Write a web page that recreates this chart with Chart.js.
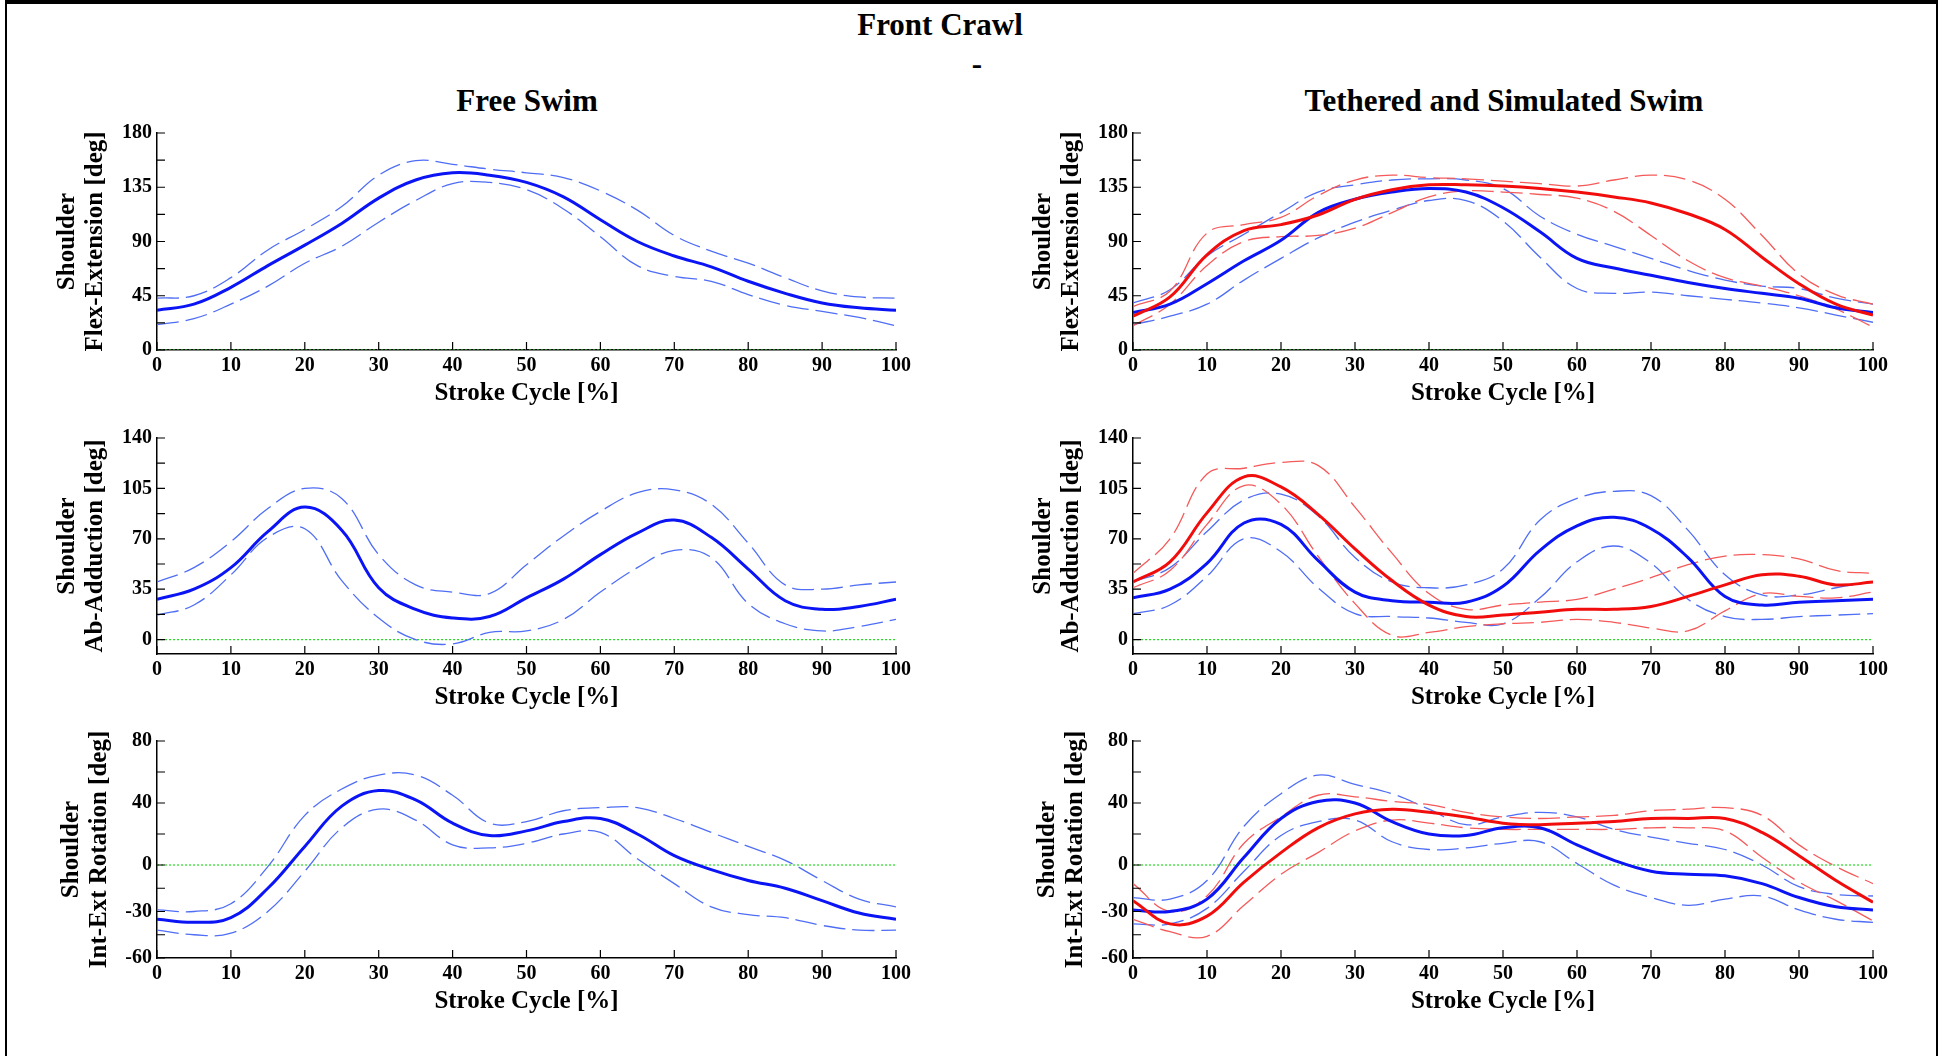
<!DOCTYPE html>
<html>
<head>
<meta charset="utf-8">
<title>Front Crawl</title>
<script src="https://cdn.jsdelivr.net/npm/chart.js@4.4.1/dist/chart.umd.min.js"></script>
<style>
  body { margin: 0; width: 1940px; height: 1056px; background: #fff; position: relative; overflow: hidden;
         font-family: "Liberation Serif", "Times New Roman", serif; font-weight: bold; color: #000; }
  .frame { position: absolute; left: 5px; top: 0; width: 1933px; height: 1056px; box-sizing: border-box;
           border-top: 4px solid #000; border-left: 2px solid #000; border-right: 2px solid #000; }
  .t { position: absolute; transform: translate(-50%, -50%); white-space: nowrap; font-size: 31px; }
  canvas { position: absolute; }
</style>
</head>
<body>
<div class="frame"></div>
<div class="t" style="left:940px;top:25px">Front Crawl</div>
<div class="t" style="left:977px;top:64px">-</div>
<div class="t" style="left:527px;top:101px">Free Swim</div>
<div class="t" style="left:1504px;top:101px">Tethered and Simulated Swim</div>

<canvas id="freeFlex" width="876" height="294" style="left:40px;top:116px"></canvas>
<canvas id="tethFlex" width="877" height="294" style="left:1016px;top:116px"></canvas>
<canvas id="freeAbd" width="876" height="293" style="left:40px;top:421px"></canvas>
<canvas id="tethAbd" width="877" height="293" style="left:1016px;top:421px"></canvas>
<canvas id="freeRot" width="876" height="294" style="left:40px;top:724px"></canvas>
<canvas id="tethRot" width="877" height="294" style="left:1016px;top:724px"></canvas>

<script>
// stroke cycle samples [%]
const STROKE = [0, 5, 10, 15, 20, 25, 30, 35, 40, 45, 50, 55, 60, 65, 70, 75, 80, 85, 90, 95, 100];
const ZERO_X = [0, 100];
const ZERO_Y = [0, 0];

// Free swim - flex/extension
const freeFlexMean  = [33, 38, 52, 70, 87, 105, 126, 141, 147, 145, 139, 127, 108, 90, 78, 69, 57, 47, 39, 35, 33];
const freeFlexUpper = [43, 45, 60, 83, 100, 119, 145, 157, 154, 150, 147, 143, 132, 116, 95, 82, 72, 60, 49, 44, 43];
const freeFlexLower = [21, 26, 38, 53, 72, 86, 106, 124, 138, 139, 133, 117, 94, 70, 61, 57, 46, 37, 32, 27, 20];

// Free swim - ab/adduction
const freeAbdMean  = [28, 35, 50, 75, 92, 76, 36, 21, 15, 16, 29, 42, 59, 74, 83, 71, 49, 27, 21, 23, 28];
const freeAbdUpper = [40, 50, 68, 91, 105, 98, 59, 38, 33, 32, 52, 72, 89, 102, 104, 94, 67, 38, 35, 38, 40];
const freeAbdLower = [17, 24, 45, 71, 77, 41, 15, 0, -3, 5, 6, 14, 33, 50, 62, 57, 25, 11, 6, 9, 14];

// Free swim - int/ext rotation
const freeRotMean  = [-35, -37, -34, -15, 12, 38, 48, 42, 27, 19, 22, 28, 30, 20, 6, -3, -10, -15, -23, -31, -35];
const freeRotUpper = [-29, -30, -25, -1, 32, 49, 58, 58, 45, 27, 28, 35, 37, 37, 30, 21, 12, 3, -10, -22, -27];
const freeRotLower = [-42, -45, -44, -30, -4, 24, 36, 29, 13, 11, 14, 20, 21, 4, -12, -27, -32, -34, -39, -42, -42];

// Tethered / simulated - flex/extension
const tethFlexBlueMean  = [31, 38, 55, 74, 91, 114, 125, 131, 134, 131, 118, 98, 76, 68, 62, 56, 51, 47, 43, 35, 31];
const tethFlexBlueUpper = [39, 50, 78, 96, 114, 131, 137, 141, 142, 141, 134, 111, 96, 86, 76, 66, 58, 53, 51, 43, 38];
const tethFlexBlueLower = [21, 28, 38, 58, 76, 93, 106, 116, 124, 124, 107, 77, 51, 47, 48, 45, 42, 39, 35, 29, 23];
const tethFlexRedMean   = [28, 44, 79, 99, 104, 112, 125, 133, 137, 137, 136, 134, 131, 127, 122, 113, 100, 77, 55, 38, 29];
const tethFlexRedUpper  = [36, 49, 97, 104, 110, 128, 141, 145, 143, 142, 140, 138, 136, 141, 145, 141, 125, 95, 63, 46, 38];
const tethFlexRedLower  = [20, 38, 70, 90, 94, 95, 101, 114, 127, 132, 131, 129, 126, 115, 95, 74, 60, 53, 45, 34, 19];

// Tethered / simulated - ab/adduction
const tethAbdBlueMean  = [29, 35, 53, 81, 80, 55, 33, 27, 26, 26, 37, 62, 79, 85, 77, 57, 30, 24, 26, 27, 28];
const tethAbdBlueUpper = [40, 50, 75, 97, 101, 86, 57, 40, 36, 38, 49, 83, 98, 103, 100, 76, 45, 31, 31, 36, 40];
const tethAbdBlueLower = [18, 24, 44, 70, 61, 36, 18, 16, 15, 12, 11, 29, 54, 65, 53, 28, 16, 14, 16, 17, 18];
const tethAbdRedMean   = [40, 54, 88, 113, 106, 87, 63, 41, 24, 16, 17, 19, 21, 21, 23, 30, 38, 45, 44, 38, 40];
const tethAbdRedUpper  = [46, 70, 115, 119, 123, 121, 92, 60, 32, 21, 24, 26, 28, 35, 43, 52, 58, 59, 56, 48, 46];
const tethAbdRedLower  = [36, 48, 80, 107, 94, 58, 25, 3, 5, 9, 11, 12, 14, 12, 8, 6, 20, 32, 30, 29, 33];

// Tethered / simulated - int/ext rotation
const tethRotBlueMean  = [-29, -30, -22, 5, 30, 41, 40, 28, 20, 19, 24, 24, 13, 3, -4, -6, -7, -12, -21, -27, -29];
const tethRotBlueUpper = [-21, -22, -10, 25, 46, 58, 52, 46, 36, 26, 31, 34, 31, 23, 18, 14, 10, 0, -14, -19, -20];
const tethRotBlueLower = [-38, -38, -28, -4, 19, 28, 29, 15, 10, 11, 14, 15, 1, -13, -21, -26, -22, -20, -29, -35, -37];
const tethRotRedMean   = [-23, -38, -33, -11, 8, 24, 33, 36, 34, 31, 27, 26, 27, 28, 30, 30, 30, 21, 6, -10, -24];
const tethRotRedUpper  = [-12, -30, -20, 14, 31, 45, 44, 41, 39, 34, 31, 30, 31, 32, 35, 36, 37, 32, 13, -1, -12];
const tethRotRedLower  = [-35, -43, -46, -26, -6, 8, 22, 29, 27, 24, 23, 23, 23, 23, 24, 24, 22, 5, -11, -23, -36];

// y axis ticks: labelled and unlabelled ones
const flexTicks = [0, 45, 90, 135, 180];
const flexMinor = [22.5, 67.5, 112.5, 157.5];
const abdTicks = [0, 35, 70, 105, 140];
const abdMinor = [17.5, 52.5, 87.5, 122.5];
const rotTicks = [-60, -30, 0, 40, 80];
const rotMinor = [-45, -15, 20, 60];

const BLUE = "#0a14f5";
const BLUE_SD = "#4f6ef5";
const RED = "#f20d0d";
const RED_SD = "#f55a5a";
const GREEN = "#22dd22";

Chart.defaults.font.family = '"Liberation Serif", "Times New Roman", serif';
Chart.defaults.font.weight = "bold";
Chart.defaults.color = "#000";

function pts(ys) {
  return STROKE.map((x, i) => ({ x: x, y: ys[i] }));
}

function meanSet(ys, color) {
  return { data: pts(ys), borderColor: color, borderWidth: 3, pointRadius: 0, tension: 0.4 };
}

function sdSet(ys, color) {
  return { data: pts(ys), borderColor: color, borderWidth: 1.3, borderDash: [22, 7], pointRadius: 0, tension: 0.4 };
}

function zeroSet() {
  return {
    data: ZERO_X.map((x, i) => ({ x: x, y: ZERO_Y[i] })),
    borderColor: GREEN, borderWidth: 1.2, borderDash: [2, 2], pointRadius: 0,
  };
}

// matlab style ticks pointing into the plot
const inwardTicks = {
  id: "inwardTicks",
  afterDatasetsDraw(chart) {
    const { ctx, chartArea: a, scales: { x, y } } = chart;
    ctx.save();
    ctx.strokeStyle = "#000";
    ctx.lineWidth = 1.2;
    ctx.beginPath();
    x.ticks.forEach((t) => {
      const px = x.getPixelForValue(t.value);
      ctx.moveTo(px, a.bottom);
      ctx.lineTo(px, a.bottom - 8);
    });
    y.ticks.forEach((t) => {
      const py = y.getPixelForValue(t.value);
      ctx.moveTo(a.left, py);
      ctx.lineTo(a.left + 8, py);
    });
    ctx.stroke();
    ctx.restore();
  },
};

function makeChart(id, datasets, yMin, yMax, labelled, minor, yTitle, titlePad) {
  const ctx = document.getElementById(id).getContext("2d");
  return new Chart(ctx, {
    type: "line",
    data: { datasets: datasets.concat([zeroSet()]) },
    options: {
      responsive: false,
      animation: false,
      devicePixelRatio: 1,
      layout: { padding: { top: 15, right: 20, bottom: 0, left: 0 } },
      plugins: { legend: { display: false }, tooltip: { enabled: false } },
      scales: {
        x: {
          type: "linear",
          min: 0,
          max: 100,
          grid: { display: false, drawTicks: false },
          border: { display: true, color: "#000", width: 1.5 },
          ticks: { stepSize: 10, autoSkip: false, maxRotation: 0, padding: 4, font: { size: 20 } },
          title: { display: true, text: "Stroke Cycle [%]", font: { size: 25, lineHeight: 1.2 }, padding: { top: 0, bottom: 1 } },
          afterFit: (s) => { s.height = 60; },
        },
        y: {
          min: yMin,
          max: yMax,
          grid: { display: false, drawTicks: false },
          border: { display: true, color: "#000", width: 1.5 },
          afterBuildTicks: (s) => {
            s.ticks = labelled.concat(minor).sort((a, b) => a - b).map((v) => ({ value: v }));
          },
          ticks: {
            autoSkip: false,
            padding: 5,
            font: { size: 20 },
            callback: (v) => (labelled.includes(v) ? String(v) : ""),
          },
          title: { display: true, text: yTitle, font: { size: 25, lineHeight: 1.12 }, padding: { top: titlePad, bottom: 0 } },
          afterFit: (s) => { s.width = 117; },
        },
      },
    },
    plugins: [inwardTicks],
  });
}

makeChart("freeFlex", [
  meanSet(freeFlexMean, BLUE), sdSet(freeFlexUpper, BLUE_SD), sdSet(freeFlexLower, BLUE_SD),
], 0, 180, flexTicks, flexMinor, ["Shoulder", "Flex-Extension [deg]"], 14);

makeChart("tethFlex", [
  meanSet(tethFlexRedMean, RED), meanSet(tethFlexBlueMean, BLUE),
  sdSet(tethFlexRedUpper, RED_SD), sdSet(tethFlexRedLower, RED_SD),
  sdSet(tethFlexBlueUpper, BLUE_SD), sdSet(tethFlexBlueLower, BLUE_SD),
], 0, 180, flexTicks, flexMinor, ["Shoulder", "Flex-Extension [deg]"], 14);

makeChart("freeAbd", [
  meanSet(freeAbdMean, BLUE), sdSet(freeAbdUpper, BLUE_SD), sdSet(freeAbdLower, BLUE_SD),
], -10, 140, abdTicks, abdMinor, ["Shoulder", "Ab-Adduction [deg]"], 14);

makeChart("tethAbd", [
  meanSet(tethAbdRedMean, RED), meanSet(tethAbdBlueMean, BLUE),
  sdSet(tethAbdRedUpper, RED_SD), sdSet(tethAbdRedLower, RED_SD),
  sdSet(tethAbdBlueUpper, BLUE_SD), sdSet(tethAbdBlueLower, BLUE_SD),
], -10, 140, abdTicks, abdMinor, ["Shoulder", "Ab-Adduction [deg]"], 14);

makeChart("freeRot", [
  meanSet(freeRotMean, BLUE), sdSet(freeRotUpper, BLUE_SD), sdSet(freeRotLower, BLUE_SD),
], -60, 80, rotTicks, rotMinor, ["Shoulder", "Int-Ext Rotation [deg]"], 18);

makeChart("tethRot", [
  meanSet(tethRotRedMean, RED), meanSet(tethRotBlueMean, BLUE),
  sdSet(tethRotRedUpper, RED_SD), sdSet(tethRotRedLower, RED_SD),
  sdSet(tethRotBlueUpper, BLUE_SD), sdSet(tethRotBlueLower, BLUE_SD),
], -60, 80, rotTicks, rotMinor, ["Shoulder", "Int-Ext Rotation [deg]"], 18);
</script>
</body>
</html>
